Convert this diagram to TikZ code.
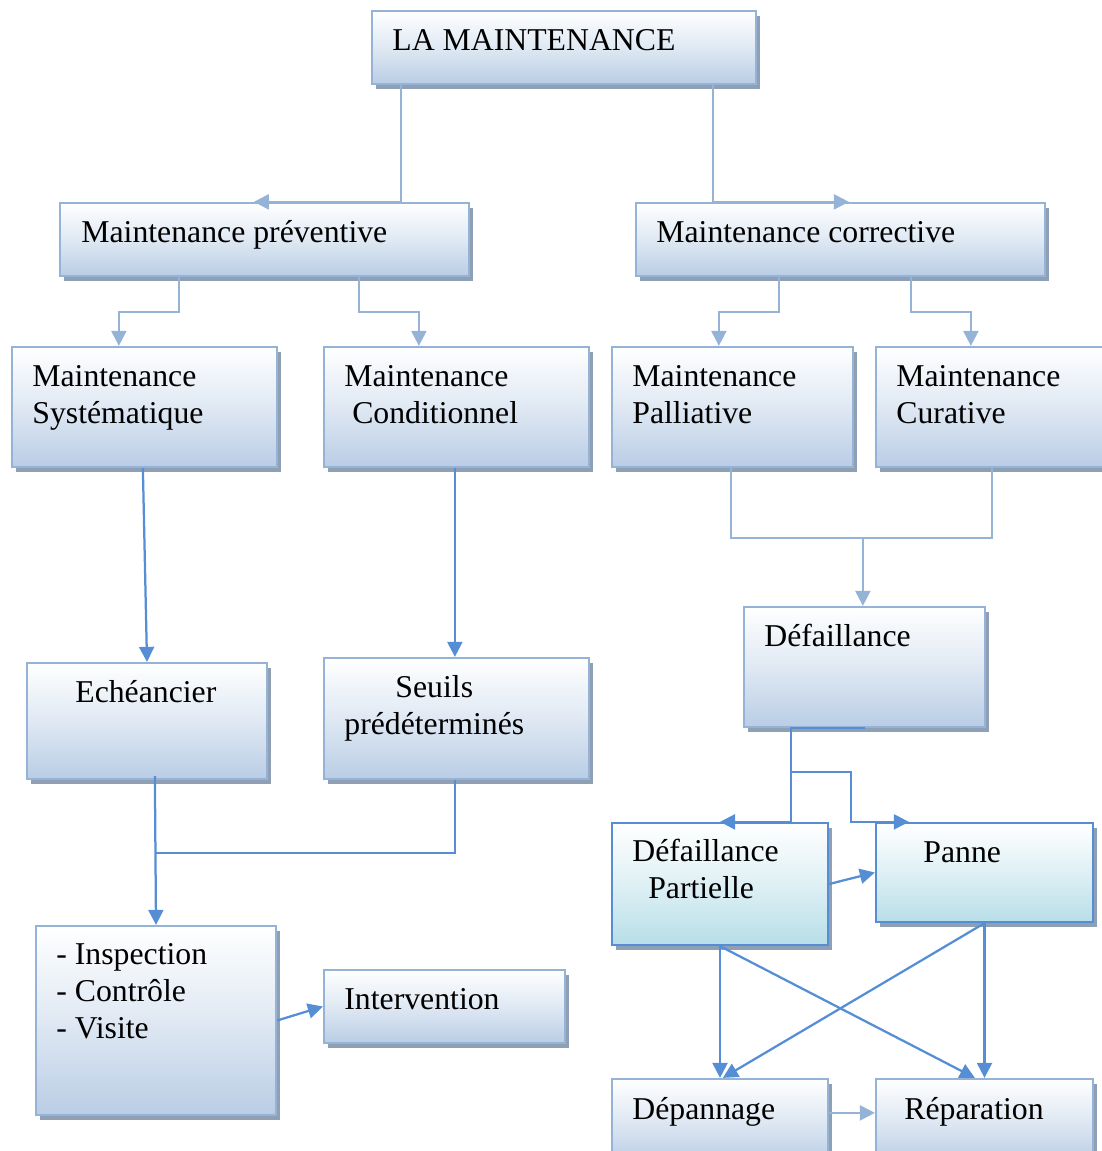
\documentclass[tikz,border=0pt]{standalone}
\usepackage{fontspec}
\setmainfont{Liberation Serif}
\usepackage{xcolor}
\usepackage{tikz}
\usetikzlibrary{positioning,arrows.meta,calc,fit,shadows}

\definecolor{liteblue}{HTML}{95B3D7}
\definecolor{boxblue}{HTML}{B9CDE5}
\definecolor{darkblue}{HTML}{558ED5}
\definecolor{tealc}{HTML}{B7DEE8}
\definecolor{shadowc}{HTML}{8FA0B5}

\begin{document}
\begin{tikzpicture}[x=0.4pt, y=-0.4pt,
    font=\fontsize{12.7}{14.8}\selectfont,
    box/.style={draw=liteblue, line width=0.9pt, inner sep=0pt,
        top color=white, bottom color=boxblue, middle color=boxblue!45!white,
        drop shadow={shadow xshift=1.6pt, shadow yshift=-2pt, fill=shadowc, opacity=1}},
    tealbox/.style={box, draw=darkblue, top color=white, bottom color=tealc, middle color=tealc!45!white},
    txt/.style={anchor=base west, inner sep=0pt, align=left},
    lite/.style={draw=liteblue, line width=0.9pt, -{Triangle[length=6pt,width=6pt]}},
    dark/.style={draw=darkblue, line width=0.9pt, -{Triangle[length=6pt,width=6pt]}}]
\useasboundingbox (0,0) rectangle (1101,1151);

% boxes
\node[box, fit={(372,11) (756,84)}] (top) {};
\node[box, fit={(60,203) (469,276)}] (prev) {};
\node[box, fit={(636,203) (1045,276)}] (corr) {};
\node[box, fit={(12,347) (277,467)}] (syst) {};
\node[box, fit={(324,347) (589,467)}] (cond) {};
\node[box, fit={(612,347) (853,467)}] (pall) {};
\node[box, fit={(876,347) (1112,467)}] (cur) {};
\node[box, fit={(744,607) (985,727)}] (def) {};
\node[box, fit={(27,663) (267,779)}] (eche) {};
\node[box, fit={(324,658) (589,779)}] (seuils) {};
\node[box, fit={(36,926) (276,1115)}] (insp) {};
\node[box, fit={(324,970) (565,1043)}] (interv) {};
\node[tealbox, fit={(612,823) (828,945)}] (defp) {};
\node[tealbox, fit={(876,823) (1093,922)}] (panne) {};
\node[box, fit={(612,1079) (828,1162)}] (depan) {};
\node[box, fit={(876,1079) (1093,1162)}] (repar) {};

% texts (base = last line)
\node[txt] (t_top) at ($(top.north west)+(21,41)$) {LA MAINTENANCE};
\node[txt] (t_prev) at ($(prev.north west)+(22,41)$) {Maintenance préventive};
\node[txt] (t_corr) at ($(corr.north west)+(21,41)$) {Maintenance corrective};
\node[txt] (t_syst) at ($(syst.north west)+(21,78)$) {Maintenance\\Systématique};
\node[txt] (t_cond) at ($(cond.north west)+(21,78)$) {Maintenance\\~Conditionnel};
\node[txt] (t_pall) at ($(pall.north west)+(21,78)$) {Maintenance\\Palliative};
\node[txt] (t_cur) at ($(cur.north west)+(21,78)$) {Maintenance\\Curative};
\node[txt] (t_def) at ($(def.north west)+(21,41)$) {Défaillance};
\node[txt] (t_eche) at ($(eche.north west)+(49,41)$) {Echéancier};
\node[txt, align=center] (t_seuils) at ($(seuils.north west)+(21,78)$) {Seuils\\prédéterminés};
\node[txt] (t_insp) at ($(insp.north west)+(21,114)$) {- Inspection\\- Contrôle\\- Visite};
\node[txt] (t_interv) at ($(interv.north west)+(21,41)$) {Intervention};
\node[txt] (t_defp) at ($(defp.north west)+(21,77)$) {Défaillance\\~~Partielle};
\node[txt] (t_panne) at ($(panne.north west)+(48,41)$) {Panne};
\node[txt] (t_depan) at ($(depan.north west)+(21,42)$) {Dépannage};
\node[txt] (t_repar) at ($(repar.north west)+(29,42)$) {Réparation};

% upper connectors
\draw[lite] ($(top.south west)+(30,0)$) |- ($(prev.north west)+(195,0)$);
\draw[lite] ($(top.south west)+(342,0)$) |- ($(corr.north west)+(214,0)$);
\draw[lite] ($(prev.south west)+(120,0)$) -- ++(0,35) -| ($(syst.north west)+(108,0)$);
\draw[lite] ($(prev.south west)+(300,0)$) -- ++(0,35) -| ($(cond.north west)+(96,0)$);
\draw[lite] ($(corr.south west)+(144,0)$) -- ++(0,35) -| ($(pall.north west)+(108,0)$);
\draw[lite] ($(corr.south west)+(276,0)$) -- ++(0,35) -| ($(cur.north west)+(96,0)$);
\coordinate (joinR) at ($(pall.south west)+(252,70)$);
\draw[lite, -] ($(pall.south west)+(120,0)$) -- ++(0,70) -| ($(cur.south west)+(117,0)$);
\draw[lite] (joinR) -- ($(def.north west)+(120,0)$);

% left branch
\draw[dark] ($(syst.south west)+(132,0)$) -- (eche.north);
\draw[dark] ($(cond.south west)+(132,0)$) -- ($(seuils.north west)+(132,0)$);
\coordinate (joinL) at ($(eche.south west)+(129,73)$);
\draw[dark, -] ($(seuils.south west)+(132,0)$) |- (joinL);
\draw[dark] ($(eche.south west)+(129,-4)$) -- (insp.north);
\draw[dark] (insp.east) -- (interv.west);

% right branch
\draw[dark] (def.south) -- ($(def.south west)+(48,0)$) |- (defp.north);
\draw[dark] ($(def.south west)+(48,44)$) -- ++(60,0) |- ($(panne.north west)+(34,0)$);
\draw[dark] (defp.east) -- (panne.west);
\draw[dark] (defp.south) -- (depan.north);
\draw[dark] (defp.south) -- ($(repar.north west)+(100,0)$);
\draw[dark] (panne.south) -- ($(depan.north west)+(112,0)$);
\draw[dark] (panne.south) -- (repar.north);
\draw[lite] ($(depan.north east)+(0,35)$) -- ($(repar.north west)+(0,35)$);

\end{tikzpicture}
\end{document}
